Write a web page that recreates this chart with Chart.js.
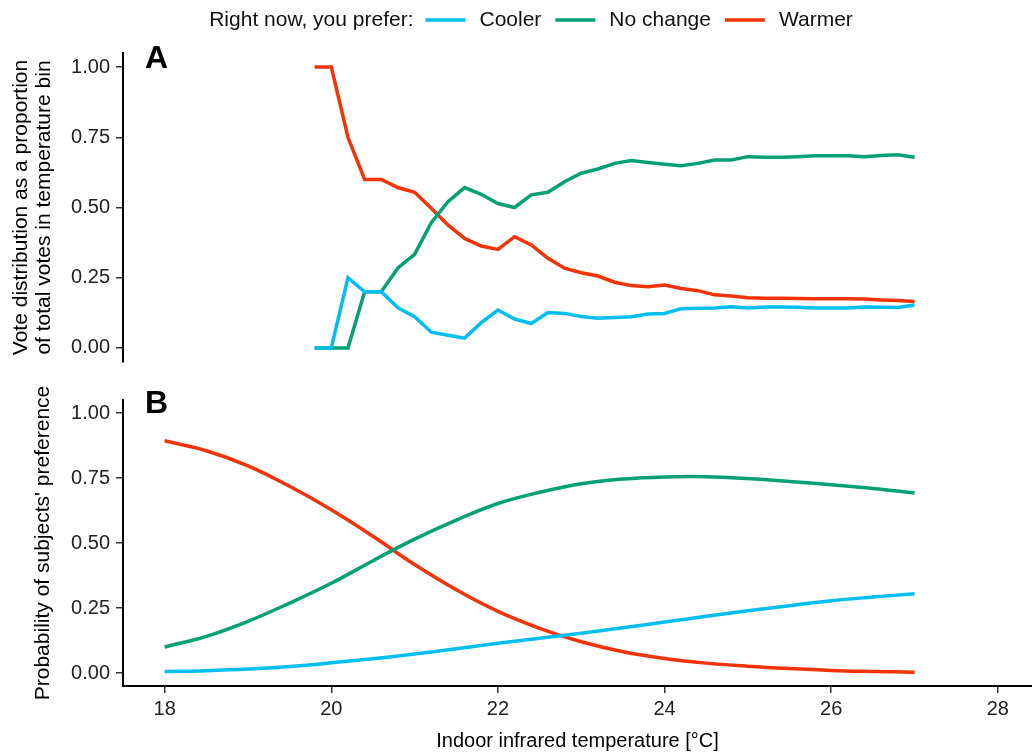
<!DOCTYPE html>
<html>
<head>
<meta charset="utf-8">
<script src="https://cdn.jsdelivr.net/npm/chart.js@4.4.1/dist/chart.umd.min.js"></script>
<style>
  html, body { margin: 0; padding: 0; background: #fff; }
  #wrap { position: relative; width: 1032px; height: 754px; }
  canvas { position: absolute; left: 0; }
  #chart-a { top: 0; }
  #chart-b { top: 380px; }
</style>
</head>
<body>
<div id="wrap">
  <canvas id="chart-a" width="1032" height="380"></canvas>
  <canvas id="chart-b" width="1032" height="374"></canvas>
</div>
<script>
// Panel A: observed vote proportions per 0.2 °C bin
const tempA = [19.8, 20.0, 20.2, 20.4, 20.6, 20.8, 21.0, 21.2, 21.4, 21.6, 21.8, 22.0, 22.2,
  22.4, 22.6, 22.8, 23.0, 23.2, 23.4, 23.6, 23.8, 24.0, 24.2, 24.4, 24.6, 24.8, 25.0, 25.2,
  25.4, 25.6, 25.8, 26.0, 26.2, 26.4, 26.6, 26.8, 27.0];
const coolerA = [0, 0, 0.25, 0.2, 0.2, 0.143, 0.111, 0.056, 0.045, 0.035, 0.09, 0.135, 0.103,
  0.087, 0.126, 0.123, 0.112, 0.106, 0.108, 0.111, 0.121, 0.123, 0.14, 0.141, 0.142, 0.147,
  0.142, 0.146, 0.146, 0.145, 0.142, 0.142, 0.142, 0.146, 0.145, 0.144, 0.153];
const noChangeA = [0, 0, 0, 0.2, 0.2, 0.285, 0.333, 0.446, 0.521, 0.571, 0.547, 0.514, 0.5,
  0.545, 0.554, 0.592, 0.622, 0.637, 0.657, 0.667, 0.66, 0.654, 0.649, 0.657, 0.669, 0.669,
  0.681, 0.679, 0.679, 0.681, 0.684, 0.684, 0.684, 0.681, 0.685, 0.688, 0.679];
const warmerA = [1, 1, 0.75, 0.6, 0.6, 0.571, 0.554, 0.497, 0.438, 0.39, 0.363, 0.351, 0.396,
  0.367, 0.319, 0.284, 0.268, 0.256, 0.234, 0.222, 0.218, 0.224, 0.212, 0.204, 0.189, 0.185,
  0.179, 0.177, 0.177, 0.176, 0.175, 0.175, 0.175, 0.174, 0.171, 0.169, 0.165];

// Panel B: modelled probabilities
const tempB = [18, 18.5, 19, 19.5, 20, 20.5, 21, 21.5, 22, 22.5, 23, 23.5, 24, 24.5, 25, 25.5, 26, 26.5, 27];
const coolerB = [0.006, 0.009, 0.015, 0.025, 0.039, 0.055, 0.073, 0.093, 0.114, 0.134, 0.153,
  0.174, 0.196, 0.218, 0.239, 0.259, 0.278, 0.292, 0.305];
const noChangeB = [0.1, 0.141, 0.199, 0.269, 0.345, 0.432, 0.515, 0.588, 0.652, 0.695, 0.728,
  0.746, 0.754, 0.755, 0.748, 0.737, 0.724, 0.71, 0.692];
const warmerB = [0.893, 0.855, 0.797, 0.718, 0.628, 0.526, 0.417, 0.32, 0.237, 0.172, 0.12,
  0.082, 0.056, 0.038, 0.026, 0.017, 0.01, 0.006, 0.003];

const seriesNames = ["Cooler", "No change", "Warmer"];
const seriesColors = ["#00BFF0", "#05A074", "#F23308"];
const legendTitle = "Right now, you prefer:";
const xTicks = [18, 20, 22, 24, 26, 28];
const yTicks = [0, 0.25, 0.5, 0.75, 1];

Chart.defaults.font.family = '"Liberation Sans", Arial, sans-serif';
Chart.defaults.color = "#222";

function toPoints(xs, ys) {
  return xs.map((x, i) => ({ x: x, y: ys[i] }));
}

function makeDatasets(xs, lists, tension) {
  return lists.map((ys, i) => ({
    label: seriesNames[i],
    data: toPoints(xs, ys),
    borderColor: seriesColors[i],
    backgroundColor: seriesColors[i],
    borderWidth: 3.5,
    pointRadius: 0,
    tension: tension,
  }));
}

// axes -----------------------------------------------------
const axisLine = { display: true, color: "#000", width: 2 };
const tickMarks = { display: true, drawOnChartArea: false, drawTicks: true, tickLength: 7, color: "#333", lineWidth: 1.5 };

function xScale(show) {
  const scale = {
    type: "linear",
    min: 17.5,
    max: 28.41,
    display: show,
    afterBuildTicks: (s) => { s.ticks = xTicks.map((v) => ({ value: v })); },
    border: axisLine,
    grid: tickMarks,
    ticks: { padding: 4, color: "#222", font: { size: 20 } },
    title: {
      display: true,
      text: "Indoor infrared temperature [°C]",
      color: "#000",
      font: { size: 20 },
      padding: { top: 0, bottom: 1 },
    },
  };
  if (show) scale.afterFit = (s) => { s.height = 68; };
  return scale;
}

function yScale(title, pad) {
  return {
    type: "linear",
    min: -0.05,
    max: 1.05,
    afterBuildTicks: (s) => { s.ticks = yTicks.map((v) => ({ value: v })); },
    afterFit: (s) => { s.width = 123; },
    border: axisLine,
    grid: tickMarks,
    ticks: { padding: 6, color: "#222", font: { size: 20 }, callback: (v) => Number(v).toFixed(2) },
    title: {
      display: true,
      text: title,
      color: "#000",
      font: { size: 21, lineHeight: 1.1 },
      padding: { top: pad, bottom: 0 },
    },
  };
}

// plugins --------------------------------------------------
const panelLetter = {
  id: "panelLetter",
  afterDraw(chart, args, opts) {
    const { ctx, chartArea } = chart;
    ctx.save();
    ctx.font = 'bold 32px "Liberation Sans", Arial, sans-serif';
    ctx.fillStyle = "#000";
    ctx.textBaseline = "alphabetic";
    ctx.fillText(opts.text, chartArea.left + 22, chartArea.top + opts.dy);
    ctx.restore();
  },
};

const topLegend = {
  id: "topLegend",
  afterDraw(chart, args, opts) {
    if (!opts.show) return;
    const ctx = chart.ctx;
    const y = 20, lineLen = 40, gapLine = 12, gapText = 14, itemGap = 14;
    ctx.save();
    ctx.font = '21px "Liberation Sans", Arial, sans-serif';
    ctx.textBaseline = "middle";
    ctx.fillStyle = "#111";
    const titleW = ctx.measureText(legendTitle).width;
    const labelW = seriesNames.map((n) => ctx.measureText(n).width);
    let total = titleW;
    labelW.forEach((w) => { total += gapLine + lineLen + gapText + w; });
    total += (itemGap - gapLine) * (labelW.length - 1);
    let x = 531 - total / 2;
    ctx.fillText(legendTitle, x, y);
    x += titleW;
    seriesNames.forEach((name, i) => {
      x += i === 0 ? gapLine : itemGap;
      ctx.strokeStyle = seriesColors[i];
      ctx.lineWidth = 3.5;
      ctx.beginPath();
      ctx.moveTo(x, y);
      ctx.lineTo(x + lineLen, y);
      ctx.stroke();
      x += lineLen + gapText;
      ctx.fillText(name, x, y);
      x += labelW[i];
    });
    ctx.restore();
  },
};

// =========================================================
// PANEL A (observed votes)
// =========================================================
new Chart(document.getElementById("chart-a"), {
  type: "line",
  data: { datasets: makeDatasets(tempA, [coolerA, noChangeA, warmerA], 0) },
  plugins: [panelLetter, topLegend],
  options: {
    responsive: false,
    animation: false,
    layout: { padding: { top: 53, bottom: 18, left: 0, right: 0 } },
    plugins: {
      legend: { display: false },
      tooltip: { enabled: false },
      panelLetter: { text: "A", dy: 15 },
      topLegend: { show: true },
    },
    scales: {
      x: xScale(false),
      y: yScale(["Vote distribution as a proportion", "of total votes in temperature bin"], 10),
    },
  },
});

// =========================================================
// PANEL B (model probabilities)
// =========================================================
new Chart(document.getElementById("chart-b"), {
  type: "line",
  data: { datasets: makeDatasets(tempB, [coolerB, noChangeB, warmerB], 0.4) },
  plugins: [panelLetter],
  options: {
    responsive: false,
    animation: false,
    layout: { padding: { top: 20, bottom: 0, left: 0, right: 0 } },
    plugins: {
      legend: { display: false },
      tooltip: { enabled: false },
      panelLetter: { text: "B", dy: 13 },
    },
    scales: {
      x: xScale(true),
      y: yScale("Probability of subjects' preference", 32),
    },
  },
});
</script>
</body>
</html>
